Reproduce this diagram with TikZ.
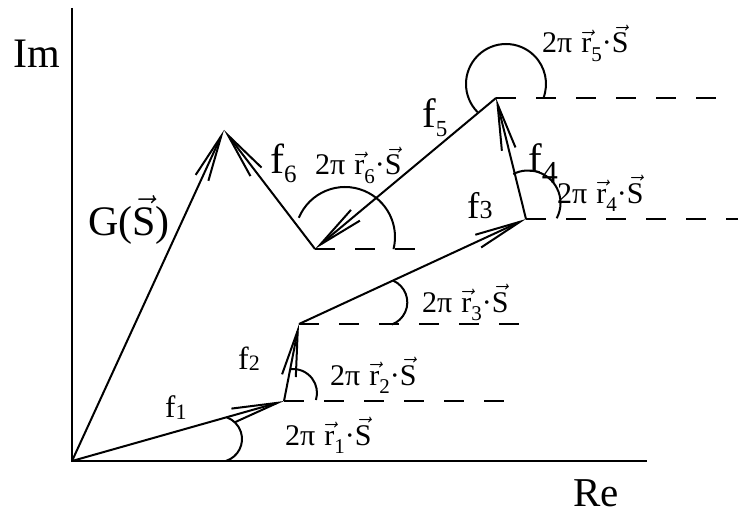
\RequirePackage{fix-cm}
\documentclass[tikz,border=0pt]{standalone}
\usepackage{fontspec}
\setmainfont{Liberation Serif}
\usetikzlibrary{arrows.meta}
\newcommand\vv[1]{\ensuremath{\vec{\mbox{#1}}}}
\newcommand\angtext[1]{2π\hspace{0.3em}\vv{r}\raisebox{-0.28em}{\fontsize{21}{21}\selectfont #1}·\vv{S}}
\newcommand\fsub[3]{f\raisebox{#3}{\fontsize{#2}{#2}\selectfont #1}}
\tikzset{
  vec/.style={line width=2pt, -{Straight Barb[length=46pt,width=14pt]}},
  axisline/.style={line width=2.2pt},
  hline/.style={line width=2pt, dash pattern=on 20pt off 20pt},
  angarc/.style={line width=2pt},
  lbl/.style={inner sep=0pt, anchor=base west, font=\fontsize{30}{36}\selectfont},
}
\begin{document}
\begin{tikzpicture}[x=1pt,y=-1pt]
\useasboundingbox (0,0) rectangle (738,513);
% points
\coordinate (O) at (72,461);
\coordinate (P1) at (284,401);
\coordinate (P2) at (299,324);
\coordinate (P3) at (526,219);
\coordinate (P4) at (496,98);
\coordinate (P5) at (315,249);
\coordinate (G) at (224,130);
\coordinate (Ytop) at (72,8);
\coordinate (Xend) at (647,461);
\coordinate (D1) at (504,401);
\coordinate (D2) at (519,324);
\coordinate (D3) at (738,219);
\coordinate (D4) at (716,98);
\coordinate (D5) at (415,249);
% arc centres
\coordinate (C0) at (219,439);
\coordinate (C1) at (293,393);
\coordinate (C2) at (383.6,302.3);
\coordinate (C3) at (528,203);
\coordinate (C4) at (506,84);
\coordinate (C5) at (345,237);
% axes
\draw[axisline] (Ytop) -- (O) -- (Xend);
% dashed horizontals
\draw[hline] (P1) -- (D1);
\draw[hline] (P2) -- (D2);
\draw[hline] (P3) -- (D3);
\draw[hline] (P4) -- (D4);
\draw[hline] (P5) -- (D5);
% angle arcs
\draw[angarc] (C0) ++(72:23) arc[start angle=72, end angle=-70, radius=23];
\draw[angarc] (C1) ++(-97:24) arc[start angle=-97, end angle=17, radius=24];
\draw[angarc] (C2) ++(-66:23.7) arc[start angle=-66, end angle=70, radius=23.7];
\draw[angarc] (C3) ++(-117:32.5) arc[start angle=-117, end angle=28, radius=32.5];
\draw[angarc] (C4) ++(135:40) arc[start angle=135, end angle=380.7, radius=40];
\draw[angarc] (C5) ++(202.6:50) arc[start angle=202.6, end angle=374.1, radius=50];
% vectors
\draw[vec] (O) -- (P1);
\draw[vec] (P1) -- (P2);
\draw[vec] (P2) -- (P3);
\draw[vec] (P3) -- (P4);
\draw[vec] (P4) -- (P5);
\draw[vec] (P5) -- (G);
\draw[vec] (O) -- (G);
% labels
\node[lbl] (l1) at (285,445) {\angtext{1}};
\node[lbl] (l2) at (330,385) {\angtext{2}};
\node[lbl] (l3) at (422,312) {\angtext{3}};
\node[lbl] (l4) at (557,203) {\angtext{4}};
\node[lbl] (l5) at (542,53) {\angtext{5}};
\node[lbl] (l6) at (315,175) {\angtext{6}};
\node[lbl, font=\fontsize{31}{36}\selectfont] (f1) at (165,417) {\fsub{1}{22}{-2pt}};
\node[lbl, font=\fontsize{32}{36}\selectfont] (f2) at (238,369) {\fsub{2}{22}{-1pt}};
\node[lbl, font=\fontsize{37}{40}\selectfont] (f3) at (467,218) {\fsub{3}{26}{0pt}};
\node[lbl, font=\fontsize{41}{44}\selectfont] (f4) at (528,173) {\fsub{4}{32}{-10pt}};
\node[lbl, font=\fontsize{41}{44}\selectfont] (f5) at (422,128) {\fsub{5}{23}{-8.5pt}};
\node[lbl, font=\fontsize{42}{44}\selectfont] (f6) at (270,174) {\fsub{6}{25}{-9pt}};
\node[lbl, font=\fontsize{42}{44}\selectfont] (gl) at (88,235) {G(\vv{S})};
\node[lbl, font=\fontsize{42}{44}\selectfont] (im) at (13,68) {Im};
\node[lbl, font=\fontsize{41}{44}\selectfont] (re) at (573,506) {Re};
\end{tikzpicture}
\end{document}
